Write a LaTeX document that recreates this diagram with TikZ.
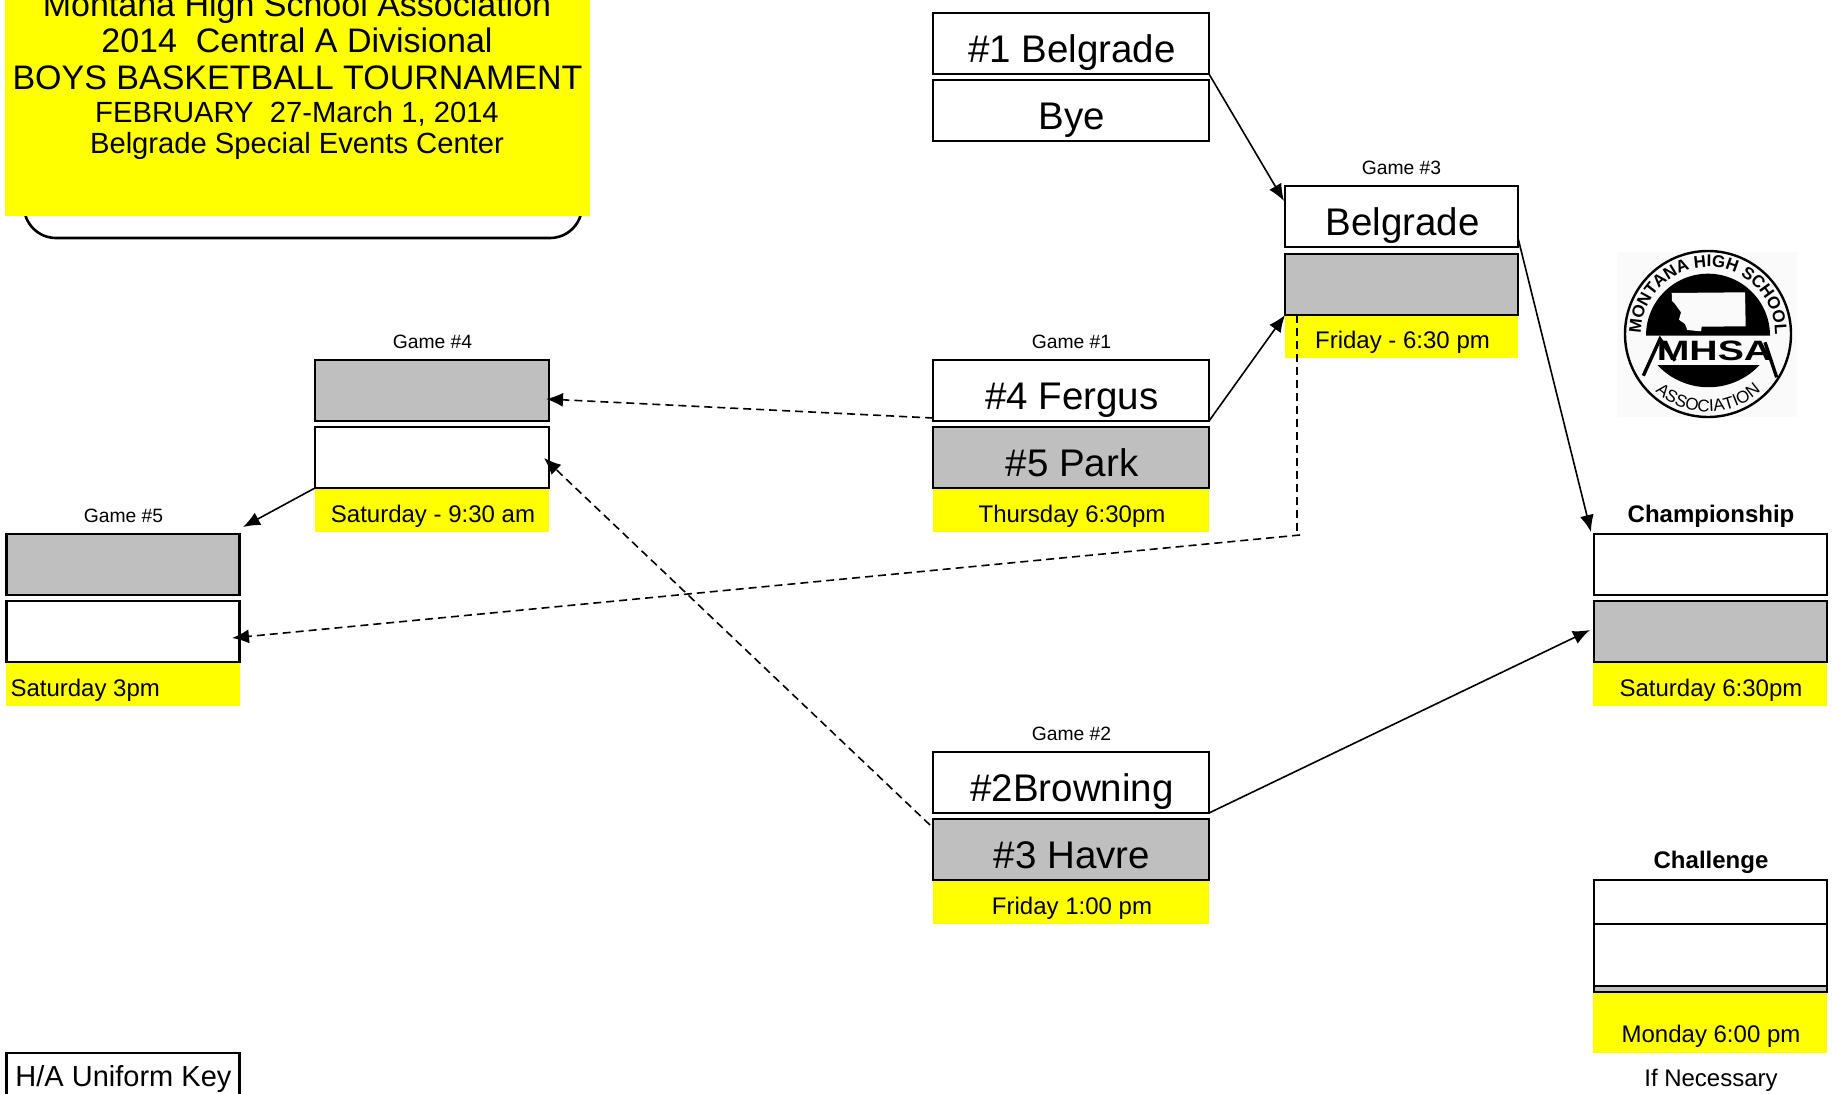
\documentclass[tikz,border=0pt]{standalone}
\usepackage{fontspec}
\setmainfont{Liberation Sans}
\usetikzlibrary{decorations.text,arrows.meta}
\definecolor{ygold}{HTML}{FFFF00}
\definecolor{gfill}{HTML}{BFBFBF}
\newcommand{\fsz}[1]{\fontsize{#1}{#1}\selectfont}
\tikzset{
  every node/.style={inner sep=0pt,outer sep=0pt},
  teambox/.style={draw=black,line width=2.8pt,anchor=north west,minimum width=#1,fill=white,minimum height=61pt,text height=39pt,text depth=1pt,font=\fsz{38.5},execute at begin node=\hspace{2pt}},
  greybox/.style={teambox=#1,fill=gfill},
  schedbox/.style={fill=ygold,anchor=north west,minimum width=#1,minimum height=44pt,text height=26pt,text depth=2pt,font=\fsz{24},execute at begin node=\hspace{2pt}},
  gamelabel/.style={anchor=base,font=\fsz{19.3}},
  boldlabel/.style={anchor=base,font=\bfseries\fsz{24}},
  titleline/.style={anchor=base,font=\fsz{#1}},
  link/.style={draw=black,line width=1.6pt,-{Latex[length=17pt,width=14pt]}},
  dashlink/.style={link,dash pattern=on 8pt off 5pt},
  dashplain/.style={draw=black,line width=1.6pt,dash pattern=on 8pt off 5pt},
}
\begin{document}
\begin{tikzpicture}[x=1pt,y=-1pt]
\useasboundingbox (0,0) rectangle (1832,1094);
% header
\draw[line width=2.6pt,rounded corners=32pt] (24,120) rectangle (582,238);
\node[fill=ygold,anchor=north west,minimum width=585pt,minimum height=216pt] (hdr) at (5,0) {};
\node[titleline=34] (t1) at (297,17) {Montana High School Association};
\node[titleline=34] (t2) at (297,53) {2014\ \ Central A Divisional};
\node[titleline=34] (t3) at (297.5,90) {BOYS BASKETBALL TOURNAMENT};
\node[titleline=29.2] (t4) at (297,123) {FEBRUARY\ \ 27-March 1, 2014};
\node[titleline=29.2] (t5) at (297,154) {Belgrade Special Events Center};
% seed 1
\node[teambox=276pt] (b1) at (933,13) {\#1 Belgrade};
\node[teambox=276pt] (bye) at (933,80) {Bye};
% game 3
\node[gamelabel] (g3l) at (1401.5,175) {Game \#3};
\node[teambox=233pt] (g3a) at (1285,186) {Belgrade};
\node[schedbox=233pt] (g3s) at (1285,314) {Friday - 6:30 pm};
\node[greybox=233pt] (g3b) at (1285,254) {};
% game 1
\node[gamelabel] (g1l) at (1071.5,348) {Game \#1};
\node[teambox=276pt] (g1a) at (933,360) {\#4 Fergus};
\node[schedbox=276pt] (g1s) at (933,488) {Thursday 6:30pm};
\node[greybox=276pt] (g1b) at (933,427) {\#5 Park};
% game 4
\node[gamelabel] (g4l) at (432.5,348) {Game \#4};
\node[greybox=234pt] (g4a) at (315,360) {};
\node[schedbox=234pt] (g4s) at (315,488) {Saturday - 9:30 am};
\node[teambox=234pt] (g4b) at (315,427) {};
% game 5
\node[gamelabel] (g5l) at (123.5,522) {Game \#5};
\node[greybox=233pt] (g5a) at (6.5,534) {};
\node[schedbox=234pt] (g5s) at (6,662) {\makebox[232pt][l]{\hspace{2.5pt}Saturday 3pm}};
\node[teambox=233pt] (g5b) at (6.5,601) {};
% game 2
\node[gamelabel] (g2l) at (1071.5,740) {Game \#2};
\node[teambox=276pt] (g2a) at (933,752) {\#2Browning};
\node[schedbox=276pt] (g2s) at (933,880) {Friday 1:00 pm};
\node[greybox=276pt] (g2b) at (933,819) {\#3 Havre};
% championship
\node[boldlabel] (chl) at (1711,522) {Championship};
\node[teambox=233pt] (cha) at (1594,534) {};
\node[schedbox=234pt] (chs) at (1593,662) {Saturday 6:30pm};
\node[greybox=233pt] (chb) at (1594,601) {};
% challenge
\node[boldlabel] (cgl) at (1711,868) {Challenge};
\node[schedbox=234pt,minimum height=61pt,text height=40pt,text depth=0pt] (cgs) at (1593,992) {Monday 6:00 pm\hspace{13pt}};
\node[greybox=233pt,minimum height=7pt,text height=0pt,text depth=0pt] (cgg) at (1594,985) {};
\node[teambox=233pt,minimum height=44pt,text height=0pt,text depth=0pt] (cga) at (1594,880) {};
\node[teambox=233pt,minimum height=62pt,text height=0pt,text depth=0pt] (cgb) at (1594,924) {};
\node[anchor=base,font=\fsz{24}] (ifn) at (1711,1086) {If Necessary};
% key
\node[draw=black,line width=2.8pt,anchor=north west,minimum width=233pt,minimum height=56pt] (keybox) at (6.5,1053) {};
\node[anchor=base west,font=\fsz{29}] (keyt) at (15.5,1086) {H/A Uniform Key};
% connector ends
\coordinate (e3a) at (1284,201);
\coordinate (e4a) at (546,399);
\coordinate (e4b) at (544,458);
\coordinate (e5b) at (232,638);
\coordinate (e5a) at (243,527);
\coordinate (echa) at (1591,532);
\coordinate (echb) at (1590,630);
\coordinate (s3) at (1297,315);
\coordinate (k3) at (1297,535);
\coordinate (s3b) at (1300,535);
\coordinate (shv) at (930,825);
\coordinate (sb3) at (1518,238);
\coordinate (sf4) at (933,418);
\draw[link] (b1.south east) -- (e3a);
\draw[link] (g1a.south east) -- (g3b.south west);
\draw[link] (sb3) -- (echa);
\draw[link] (g2a.south east) -- (echb);
\draw[link] (g4b.south west) -- (e5a);
\draw[dashlink] (sf4) -- (e4a);
\draw[dashlink] (shv) -- (e4b);
\draw[dashplain] (s3) -- (k3);
\draw[dashlink] (s3b) -- (e5b);
% logo
\fill[black!2] (1617,252) rectangle (1797,417);
\begin{scope}[shift={(1708,334)},x=1pt,y=1pt]
  \draw[line width=2.4pt] (0,0) circle[radius=83];
  \fill (-62,-1.7) arc[start angle=180,end angle=0,radius=62] -- cycle;
  \fill[black!2] (-36.3,41) -- (37,41.7) -- (37.7,7.7) -- (-6.3,7.3) -- (-7,2.7) -- (-20.7,4) -- (-23,10) -- (-29,14.3) -- (-27,21.7) -- (-33,30) -- (-36,33) -- cycle;
  \fill (-50.7,-31) arc[start angle=223,end angle=317,radius=70] -- cycle;
  \draw[line width=3.4pt,line join=miter] (-64.7,-41.7) -- (-48,-5) -- (-33,-26.7);
  \draw[line width=3.4pt] (57,-8.3) -- (68.7,-43.3);
  \node[anchor=base,xscale=1.4,font=\bfseries\fsz{28}] (mhsa) at (6.5,-26.7) {MHSA};
  \path[decorate,decoration={text along path,text={|\bfseries\fsz{17}|MONTANA HIGH SCHOOL},text align={fit to path}}] (-67,0) arc[start angle=180,end angle=0,radius=67];
  \path[decorate,decoration={text along path,text={|\fsz{17}|ASSOCIATION},text align={center}}] (-57,-53) arc[start angle=223,end angle=317,radius=78];
\end{scope}
\end{tikzpicture}
\end{document}
